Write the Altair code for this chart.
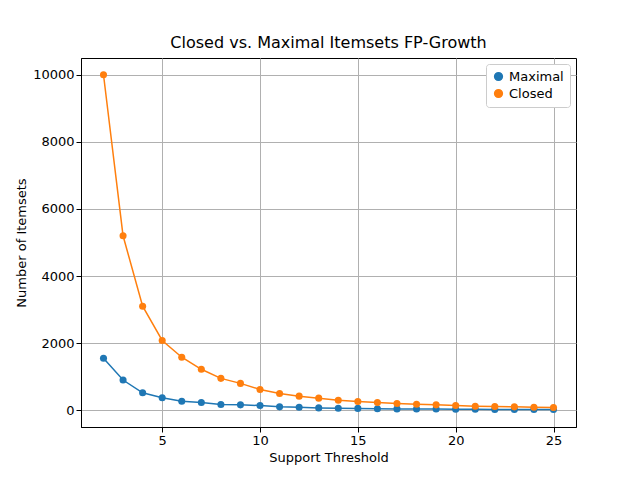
import pandas as pd
import altair as alt

support = list(range(2, 26))
maximal = [1550, 900, 520, 370, 270, 230, 170, 160, 140, 100, 90, 70, 60, 55,
           45, 40, 35, 35, 30, 30, 25, 25, 20, 20]
closed = [10000, 5200, 3100, 2080, 1580, 1220, 950, 800, 620, 500, 420, 360, 300,
          260, 230, 200, 180, 160, 140, 120, 110, 100, 90, 80]

df = pd.concat([
    pd.DataFrame({"support": support, "count": maximal, "type": "Maximal"}),
    pd.DataFrame({"support": support, "count": closed, "type": "Closed"}),
])

color = alt.Color("type:N",
                  scale=alt.Scale(domain=["Maximal", "Closed"], range=["#1f77b4", "#ff7f0e"]),
                  legend=alt.Legend(title=None, orient="top-right", strokeColor="#cccccc",
                                    fillColor="white", padding=6, cornerRadius=3,
                                    symbolType="circle", symbolSize=60, labelFontSize=13,
                                    labelFont="DejaVu Sans", offset=6))

axis_style = dict(gridColor="#b0b0b0", domainColor="black", tickColor="black",
                  labelColor="black", titleColor="black", labelFontSize=13,
                  titleFontSize=13, titleFontWeight="normal",
                  labelFont="DejaVu Sans", titleFont="DejaVu Sans")

base = alt.Chart(df).encode(
    x=alt.X("support:Q", title="Support Threshold",
            scale=alt.Scale(domain=[0.85, 26.15], nice=False, zero=False),
            axis=alt.Axis(values=[5, 10, 15, 20, 25], **axis_style)),
    y=alt.Y("count:Q", title="Number of Itemsets",
            scale=alt.Scale(domain=[-500, 10500], nice=False),
            axis=alt.Axis(values=[0, 2000, 4000, 6000, 8000, 10000], format="d", **axis_style)),
    color=color,
)

chart = (base.mark_line(strokeWidth=1.5) + base.mark_circle(size=50, opacity=1)).properties(
    width=495, height=369,
    title=alt.TitleParams("Closed vs. Maximal Itemsets FP-Growth", fontSize=16,
                          fontWeight="normal", font="DejaVu Sans", offset=7),
    autosize=alt.AutoSizeParams(type="none"),
    padding={"left": 73, "top": 50, "right": 56, "bottom": 45},
).configure_view(stroke="black", strokeWidth=1)

chart.save("out.html", embed_options={"renderer": "svg", "actions": False})
